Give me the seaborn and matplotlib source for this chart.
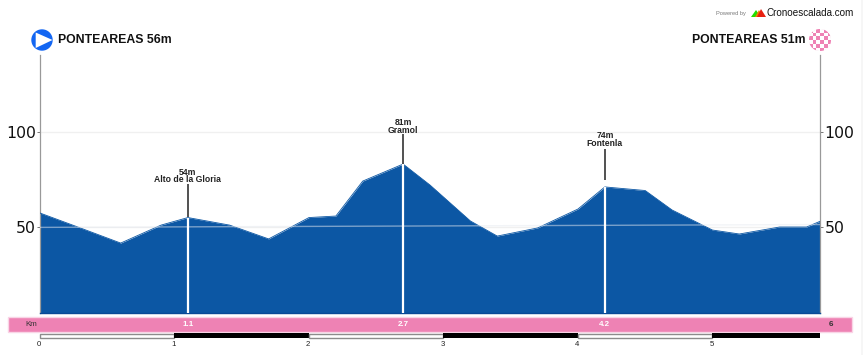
import numpy as np
import pandas as pd
import matplotlib
matplotlib.use("Agg")
import matplotlib.pyplot as plt
from matplotlib.patches import Circle, Rectangle, Polygon
import seaborn as sns

km = [0.0, 0.3, 0.6, 0.9, 1.1, 1.41, 1.7, 2.0, 2.2, 2.4, 2.7, 2.9, 3.2, 3.4, 3.7, 4.0, 4.2, 4.5, 4.7, 5.0, 5.2, 5.5, 5.7, 5.8]
elev = [57.4, 49.5, 41.5, 51, 55, 51, 43.7, 55, 55.8, 74.3, 83.3, 72.2, 53.2, 45.2, 49.5, 59.5, 71.2, 69.3, 59, 48.4, 46.3, 50, 50, 53]
summit_km = [1.1, 2.7, 4.2]
summit_elev = [55, 83.3, 71.2]
summit_gain = ["54m", "81m", "74m"]
summit_name = ["Alto de la Gloria", "Gramol", "Fontenla"]
summit_stem_low = [55.5, 83.5, 74.8]
summit_stem_top = [72.5, 99, 91.5]
summit_label_y = [72.5, 98.6, 92]
mean_km = [0.0, 5.8]
mean_elev = [49.8, 51.3]
scale_ticks = [0, 1, 2, 3, 4, 5]
start_label = "PONTEAREAS 56m"
finish_label = "PONTEAREAS 51m"

W, H = 863, 355
BLUE = "#0C57A4"
PINK = "#EE82B4"
sans = ["Liberation Sans", "DejaVu Sans"]

sns.set_style("white")
fig = plt.figure(figsize=(W / 100, H / 100), dpi=100, facecolor="white")


def axes_px(x0, y0, x1, y1, **kw):
    return fig.add_axes([x0 / W, 1 - y1 / H, (x1 - x0) / W, (y1 - y0) / H], **kw)


# overlay in pixel coordinates for header and band decoration
deco = axes_px(0, 0, W, H, zorder=5)
deco.set_xlim(0, W)
deco.set_ylim(H, 0)
deco.axis("off")
deco.patch.set_alpha(0)

ax = axes_px(40, 55, 820, 313, zorder=2)
df = pd.DataFrame({"km": km, "elev": elev})
ax.set_xlim(0, 5.8)
ax.set_ylim(4.5, 141)
ax.fill_between(df["km"], df["elev"], 4.5, color=BLUE, lw=0, zorder=2)
sns.lineplot(data=df, x="km", y="elev", ax=ax, color=BLUE, lw=0.6, zorder=3, errorbar=None, sort=False)
ax.set_xlabel("")
ax.set_ylabel("")
ax.set_xticks([])
ax.set_yticks([50, 100])
ax.tick_params(axis="y", left=True, right=True, labelleft=True, labelright=True,
               length=2.5, width=0.7, color="#777777", labelsize=11.3, labelcolor="#111111", pad=0.6)
for lab in ax.get_yticklabels():
    lab.set_fontfamily("DejaVu Sans")
ax.grid(axis="y", color="#F0F0F0", lw=1, zorder=1)
ax.set_axisbelow(True)
ax.spines["top"].set_visible(False)
for s in ["left", "right"]:
    ax.spines[s].set_color("#999999")
    ax.spines[s].set_linewidth(0.9)
ax.spines["bottom"].set_color("#0A4A96")
ax.spines["bottom"].set_linewidth(1)

sns.lineplot(x=mean_km, y=mean_elev, ax=ax, color="#E6EAF0", alpha=0.5, lw=1, zorder=3.5, errorbar=None)

ax.vlines(summit_km, 4.5, summit_elev, color="white", lw=1.6, zorder=4)
ax.vlines(summit_km, summit_stem_low, summit_stem_top, color="#222222", lw=1.1, zorder=4)
for x, y, g, n in zip(summit_km, summit_label_y, summit_gain, summit_name):
    ax.annotate(f"{g}\n{n}", (x, y), ha="center", va="bottom", fontsize=6.2, family=sans,
                fontweight="bold", color="#222222", linespacing=0.85, annotation_clip=False)

# header
deco.text(58, 40, start_label, fontsize=8.8, fontweight="bold", family=sans, va="center", ha="left", color="#111111")
deco.text(805, 40, finish_label, fontsize=8.8, fontweight="bold", family=sans, va="center", ha="right", color="#111111")
deco.add_patch(Circle((42, 40), 10.7, color="#1366F2", lw=0))
deco.add_patch(Polygon([(35.7, 32.5), (35.7, 48), (52.5, 40)], color="white", lw=0))
clip = Circle((820, 40), 11, transform=deco.transData, facecolor="#F9D5E6", lw=0)
deco.add_patch(clip)
for i in range(6):
    for j in range(6):
        c = "#EE82B4" if (i + j) % 2 == 0 else "white"
        r = Rectangle((809 + i * 3.7, 29 + j * 3.7), 3.7, 3.7, color=c, lw=0)
        deco.add_patch(r)
        r.set_clip_path(clip)

deco.text(731, 13.5, "Powered by", fontsize=4.1, family=sans, color="#777777", ha="center", va="center")
deco.text(766.5, 13.5, "Cronoescalada.com", fontsize=7.1, family=sans, color="#111111", ha="left", va="center")
deco.add_patch(Polygon([(751, 17), (756, 10), (761, 17)], color="#22DD00", lw=0))
deco.add_patch(Polygon([(755, 17), (759, 10), (763, 17)], color="#F08000", lw=0))
deco.add_patch(Polygon([(757, 17), (761, 9), (766, 17)], color="#E82010", lw=0))
deco.add_patch(Rectangle((861, 0), 2, H, color="#F6F6F6", lw=0))

# km band
deco.add_patch(Rectangle((8, 316.5), 844, 15, facecolor=PINK, edgecolor="#F9D5E6", lw=1))
deco.text(31.5, 324, "Km", fontsize=5.8, family=sans, color="#333333", ha="center", va="center")
deco.text(830.5, 324, "6", fontsize=5.8, family=sans, fontweight="bold", color="#333333", ha="center", va="center")

band = axes_px(40, 316, 820, 332, zorder=6)
band.set_xlim(0, 5.8)
band.set_ylim(0, 1)
band.axis("off")
band.patch.set_alpha(0)
for x in summit_km:
    band.text(x, 0.5, f"{x:.1f}", fontsize=5.8, fontweight="bold", family=sans, color="white", ha="center", va="center")

# scale bar
sc = axes_px(40, 333, 820, 338, zorder=6)
sc.set_xlim(0, 5.8)
sc.set_ylim(0, 1)
sc.axis("off")
edges = scale_ticks + [5.8]
for i in range(len(edges) - 1):
    if i % 2 == 0:
        sc.barh(0.5, edges[i + 1] - edges[i], left=edges[i], height=0.8, facecolor="white",
                edgecolor="#8C8C8C", lw=1, clip_on=False)
    else:
        sc.barh(0.5, edges[i + 1] - edges[i], left=edges[i], height=1, facecolor="black", lw=0)
for t in scale_ticks:
    sc.annotate(str(t), (t, 0), xytext=(-0.5, -2.5), textcoords="offset points", ha="center", va="top",
                fontsize=5.6, family=sans, color="#222222", annotation_clip=False)

fig.savefig("out.png", dpi=100, facecolor="white")
